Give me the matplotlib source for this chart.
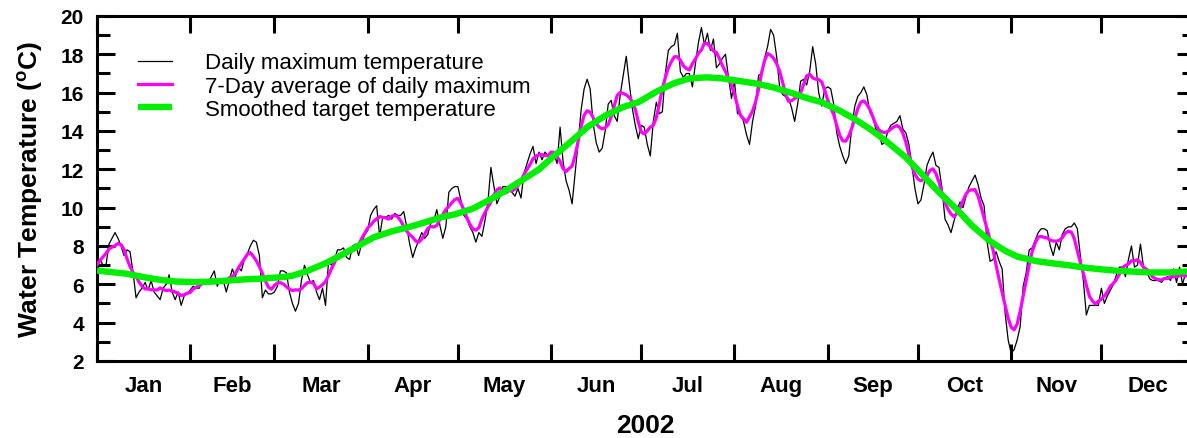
import matplotlib
matplotlib.use("Agg")
import matplotlib.pyplot as plt
from matplotlib.ticker import FixedLocator, FixedFormatter, NullFormatter, MultipleLocator
import numpy as np
import pandas as pd

plt.rcParams['font.family'] = ['Liberation Sans', 'DejaVu Sans']
plt.rcParams['font.weight'] = 'bold'
plt.rcParams['mathtext.fontset'] = 'custom'
plt.rcParams['mathtext.rm'] = 'Liberation Sans:bold'
plt.rcParams['mathtext.bf'] = 'Liberation Sans:bold'

# daily maximum water temperature, 2002 (day 0 = Jan 1)
daily_max = [
    6.8, 7.3, 7.0, 7.0, 8.1, 8.4, 8.7, 8.4, 8.0, 7.5,
    7.8, 7.7, 6.6, 5.3, 5.6, 5.8, 6.1, 5.7, 6.2, 5.6,
    5.4, 5.2, 5.8, 6.0, 6.5, 5.6, 5.2, 5.6, 4.9, 5.4,
    5.5, 5.7, 5.9, 5.8, 5.8, 6.2, 6.0, 6.1, 6.4, 6.7,
    5.9, 6.3, 6.2, 5.6, 6.2, 6.8, 6.4, 6.9, 6.7, 7.3,
    7.6, 8.0, 8.3, 8.2, 7.5, 5.3, 5.7, 5.5, 5.5, 5.6,
    5.9, 6.7, 6.7, 6.6, 5.6, 5.0, 4.6, 5.0, 6.2, 7.0,
    6.5, 6.1, 6.2, 5.6, 5.2, 5.8, 4.9, 7.2, 7.0, 7.3,
    7.8, 7.8, 7.9, 7.4, 7.3, 8.0, 8.1, 7.5, 8.1, 8.6,
    8.8, 9.6, 9.9, 10.1, 8.5, 9.5, 9.5, 9.6, 9.4, 9.7,
    9.6, 9.6, 9.8, 9.0, 8.1, 7.4, 7.9, 8.3, 8.7, 8.4,
    8.6, 9.2, 9.3, 9.9, 9.1, 8.4, 9.0, 10.8, 11.0, 11.1,
    11.1, 10.4, 9.6, 9.4, 9.0, 8.7, 8.2, 8.7, 8.5, 9.3,
    10.3, 12.1, 11.1, 10.2, 10.6, 11.1, 11.1, 11.0, 10.8, 10.6,
    11.0, 10.5, 11.8, 12.3, 12.8, 13.2, 12.3, 12.9, 12.5, 12.9,
    12.7, 12.9, 12.8, 12.3, 14.2, 12.4, 11.4, 10.9, 10.2, 11.8,
    13.4, 15.1, 16.2, 16.7, 16.2, 14.4, 13.4, 12.9, 13.1, 14.0,
    15.4, 15.6, 14.8, 14.5, 15.9, 16.9, 17.9, 16.5, 15.2, 14.3,
    13.6, 14.3, 14.2, 13.3, 12.7, 14.5, 15.5, 14.9, 15.0, 17.0,
    18.2, 18.4, 18.5, 19.1, 17.1, 16.8, 17.0, 17.0, 16.3, 17.5,
    18.6, 19.4, 18.5, 19.1, 18.2, 18.8, 17.3, 17.5, 17.8, 18.0,
    16.8, 15.7, 16.6, 14.9, 14.9, 14.5, 13.8, 13.3, 14.5, 15.3,
    16.9, 17.0, 17.8, 18.4, 19.3, 19.0, 17.9, 16.3, 15.9, 15.8,
    15.7, 15.2, 14.5, 15.4, 16.6, 16.7, 16.4, 17.1, 18.4, 17.5,
    16.0, 15.3, 16.2, 16.3, 16.2, 15.4, 13.9, 13.2, 12.7, 12.3,
    12.7, 14.2, 15.3, 15.8, 16.0, 16.3, 15.9, 15.0, 14.7, 14.1,
    13.9, 13.3, 13.4, 14.0, 14.3, 14.4, 14.5, 14.8, 14.1, 13.9,
    13.3, 12.2, 11.0, 10.2, 10.4, 11.2, 12.2, 12.6, 12.9, 12.2,
    12.1, 11.0, 9.4, 9.1, 8.7, 9.3, 9.9, 10.3, 10.0, 10.6,
    11.1, 11.4, 11.7, 11.2, 10.5, 10.1, 8.2, 7.2, 7.3, 7.7,
    7.2, 6.8, 4.5, 3.1, 2.4, 2.6, 3.1, 3.8, 5.9, 6.6,
    7.8, 7.9, 8.3, 8.7, 8.9, 8.9, 8.8, 8.0, 7.5, 8.2,
    7.8, 8.6, 8.9, 9.0, 9.0, 9.2, 8.9, 7.5, 6.2, 4.4,
    4.9, 4.9, 4.9, 4.9, 5.8, 5.0, 5.4, 5.7, 6.0, 6.5,
    6.9, 6.9, 6.4, 7.3, 8.0, 6.9, 7.0, 8.1, 6.9, 6.8,
    6.3, 6.2, 6.2, 6.2, 6.1, 6.3, 6.4, 6.2, 6.8, 6.1,
    6.9, 6.0, 6.6, 6.5, 6.5,
]

# smoothed target temperature
target_days = [0, 10, 16, 22, 27, 33, 38, 44, 49, 55, 62, 65, 70, 76, 81, 87, 92,
               98, 104, 109, 115, 119, 125, 130, 136, 141, 147, 152, 158, 163, 169,
               175, 180, 186, 192, 197, 203, 208, 214, 219, 225, 231, 236, 241, 247,
               252, 258, 263, 269, 274, 280, 286, 291, 297, 302, 306, 312, 317, 323,
               328, 334, 339, 345, 350, 356, 364]
target_temp = [6.72, 6.55, 6.36, 6.21, 6.14, 6.12, 6.14, 6.20, 6.26, 6.30, 6.38,
               6.45, 6.70, 7.10, 7.50, 8.02, 8.45, 8.76, 9.00, 9.23, 9.52, 9.65,
               9.95, 10.36, 10.90, 11.40, 12.00, 12.70, 13.50, 14.20, 14.80, 15.25,
               15.50, 16.05, 16.50, 16.74, 16.80, 16.74, 16.60, 16.48, 16.27, 15.98,
               15.72, 15.50, 15.06, 14.62, 14.00, 13.40, 12.62, 11.80, 10.80, 9.90,
               9.06, 8.25, 7.75, 7.45, 7.22, 7.11, 7.00, 6.88, 6.78, 6.71, 6.66,
               6.62, 6.62, 6.68]

month_names = ['Jan', 'Feb', 'Mar', 'Apr', 'May', 'Jun',
               'Jul', 'Aug', 'Sep', 'Oct', 'Nov', 'Dec']
month_starts = [0, 31, 59, 90, 120, 151, 181, 212, 243, 273, 304, 334, 365]

days = np.arange(len(daily_max))
avg7 = pd.Series(daily_max).rolling(7, center=True, min_periods=1).mean()

fig = plt.figure(figsize=(11.87, 4.39), dpi=100)
ax = fig.add_axes([0.0817, 0.1754, 0.9247, 0.7859])

ax.plot(days, daily_max, color='black', lw=0.9, label='Daily maximum temperature', zorder=2)
ax.plot(days, avg7, color='#ff00ff', lw=2.3, label='7-Day average of daily maximum', zorder=3)
ax.plot(target_days, target_temp, color='#00ee00', lw=4.6, label='Smoothed target temperature',
        zorder=4, solid_capstyle='butt')

ax.set_xlim(0, 365)
ax.set_ylim(2, 20)

# month boundaries get the tick marks, month names sit mid-month
ax.xaxis.set_major_locator(FixedLocator(month_starts))
ax.xaxis.set_major_formatter(NullFormatter())
mids = [(a + b) / 2 for a, b in zip(month_starts[:-1], month_starts[1:])]
ax.xaxis.set_minor_locator(FixedLocator(mids))
ax.xaxis.set_minor_formatter(FixedFormatter(month_names))
ax.yaxis.set_major_locator(MultipleLocator(2))
ax.yaxis.set_minor_locator(MultipleLocator(1))

ax.tick_params(axis='x', which='major', direction='in', length=12, width=2.2,
               top=True, bottom=True)
ax.tick_params(axis='x', which='minor', length=0, labelsize=16, pad=10)
ax.tick_params(axis='y', which='major', direction='in', length=13, width=2.2,
               left=True, right=True, labelsize=15, pad=9.5)
ax.tick_params(axis='y', which='minor', direction='in', length=9.5, width=2.2,
               left=True, right=True)

for s in ax.spines.values():
    s.set_linewidth(2.2)

ax.set_xlabel('2002', fontsize=19, fontweight='bold', labelpad=12)
ax.set_ylabel(r'Water Temperature ($^{\mathregular{o}}$C)', fontsize=19,
              fontweight='bold', labelpad=11)

leg = ax.legend(loc='upper left', bbox_to_anchor=(0.0294, 0.92), frameon=False,
                prop={'weight': 'normal', 'size': 16}, handlelength=1.53,
                handletextpad=1.49, labelspacing=0.1, borderaxespad=0)

fig.savefig('out.png', dpi=100)
